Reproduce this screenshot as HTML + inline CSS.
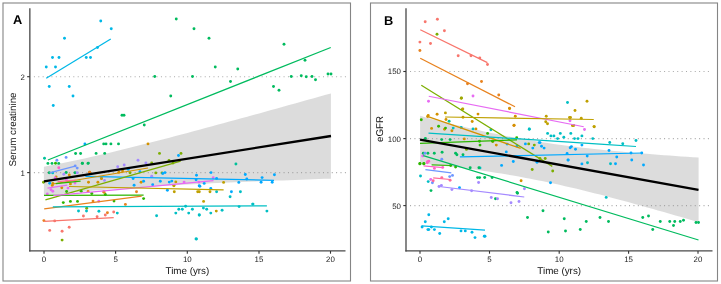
<!DOCTYPE html><html><head><meta charset="utf-8"><style>
html,body{margin:0;padding:0;background:#fff;}
svg{display:block;font-family:"Liberation Sans",sans-serif;will-change:transform;}text{text-rendering:geometricPrecision;}
</style></head><body>
<svg width="721" height="284" viewBox="0 0 721 284">
<rect x="0" y="0" width="721" height="284" fill="#fff"/>
<rect x="3" y="3" width="347.5" height="278" fill="none" stroke="#858585" stroke-width="1.1"/>
<line x1="33.9" y1="172.6" x2="346" y2="172.6" stroke="#a8a8a8" stroke-width="1.1" stroke-dasharray="1 3.38"/>
<line x1="33.9" y1="76.7" x2="346" y2="76.7" stroke="#a8a8a8" stroke-width="1.1" stroke-dasharray="1 3.38"/>
<polygon points="43.90,166.67 49.88,165.56 55.86,164.42 61.84,163.24 67.82,162.03 73.80,160.78 79.78,159.50 85.75,158.19 91.73,156.85 97.71,155.48 103.69,154.09 109.67,152.68 115.65,151.25 121.63,149.80 127.61,148.33 133.59,146.84 139.57,145.34 145.55,143.82 151.53,142.30 157.50,140.76 163.48,139.21 169.46,137.64 175.44,136.07 181.42,134.49 187.40,132.91 193.38,131.31 199.36,129.71 205.34,128.10 211.32,126.49 217.30,124.87 223.28,123.24 229.25,121.61 235.23,119.98 241.21,118.34 247.19,116.70 253.17,115.05 259.15,113.40 265.13,111.75 271.11,110.09 277.09,108.43 283.07,106.77 289.05,105.11 295.02,103.44 301.00,101.77 306.98,100.10 312.96,98.43 318.94,96.75 324.92,95.07 330.90,93.39 330.90,178.63 324.92,178.84 318.94,179.06 312.96,179.27 306.98,179.49 301.00,179.71 295.02,179.94 289.05,180.16 283.07,180.39 277.09,180.62 271.11,180.85 265.13,181.09 259.15,181.33 253.17,181.57 247.19,181.81 241.21,182.06 235.23,182.32 229.25,182.57 223.28,182.83 217.30,183.10 211.32,183.37 205.34,183.65 199.36,183.93 193.38,184.22 187.40,184.52 181.42,184.83 175.44,185.14 169.46,185.46 163.48,185.79 157.50,186.13 151.53,186.48 145.55,186.85 139.57,187.22 133.59,187.61 127.61,188.02 121.63,188.44 115.65,188.88 109.67,189.34 103.69,189.82 97.71,190.32 91.73,190.85 85.75,191.40 79.78,191.98 73.80,192.60 67.82,193.24 61.84,193.91 55.86,194.63 49.88,195.38 43.90,196.16" fill="#999999" fill-opacity="0.345"/>
<circle cx="100.75" cy="21" r="1.45" fill="#00B8E7"/>
<circle cx="111.25" cy="28.75" r="1.45" fill="#00B8E7"/>
<circle cx="64.5" cy="38.25" r="1.45" fill="#00B8E7"/>
<circle cx="52.5" cy="57.5" r="1.45" fill="#00B8E7"/>
<circle cx="59" cy="57.5" r="1.45" fill="#00B8E7"/>
<circle cx="86.25" cy="57.5" r="1.45" fill="#00B8E7"/>
<circle cx="90.5" cy="57.5" r="1.45" fill="#00B8E7"/>
<circle cx="97.5" cy="47.5" r="1.45" fill="#00B8E7"/>
<circle cx="46.25" cy="67" r="1.45" fill="#00B8E7"/>
<circle cx="55.5" cy="67" r="1.45" fill="#00B8E7"/>
<circle cx="49.25" cy="86.5" r="1.45" fill="#00B8E7"/>
<circle cx="69.25" cy="86.5" r="1.45" fill="#00B8E7"/>
<circle cx="73" cy="96" r="1.45" fill="#00B8E7"/>
<circle cx="53.25" cy="105.5" r="1.45" fill="#00B8E7"/>
<circle cx="176.25" cy="19" r="1.45" fill="#00BB5E"/>
<circle cx="194" cy="28.75" r="1.45" fill="#00BB5E"/>
<circle cx="209" cy="38.25" r="1.45" fill="#00BB5E"/>
<circle cx="215.25" cy="67" r="1.45" fill="#00BB5E"/>
<circle cx="284" cy="44.25" r="1.45" fill="#00BB5E"/>
<circle cx="305" cy="60.25" r="1.45" fill="#00BB5E"/>
<circle cx="237.75" cy="69" r="1.45" fill="#00BB5E"/>
<circle cx="122" cy="115.25" r="1.45" fill="#00BB5E"/>
<circle cx="124" cy="115.25" r="1.45" fill="#00BB5E"/>
<circle cx="144.25" cy="125" r="1.45" fill="#00BB5E"/>
<circle cx="154.75" cy="76.5" r="1.45" fill="#00BB5E"/>
<circle cx="192.5" cy="76.5" r="1.45" fill="#00BB5E"/>
<circle cx="230.5" cy="81.5" r="1.45" fill="#00BB5E"/>
<circle cx="170.75" cy="96" r="1.45" fill="#00BB5E"/>
<circle cx="273.5" cy="86.5" r="1.45" fill="#00BB5E"/>
<circle cx="279" cy="90.25" r="1.45" fill="#00BB5E"/>
<circle cx="291.25" cy="76.5" r="1.45" fill="#00BB5E"/>
<circle cx="301.25" cy="75.75" r="1.45" fill="#00BB5E"/>
<circle cx="306.25" cy="76.75" r="1.45" fill="#00BB5E"/>
<circle cx="312" cy="76.5" r="1.45" fill="#00BB5E"/>
<circle cx="315.5" cy="79.75" r="1.45" fill="#00BB5E"/>
<circle cx="328" cy="74" r="1.45" fill="#00BB5E"/>
<circle cx="331" cy="74" r="1.45" fill="#00BB5E"/>
<circle cx="47.9" cy="163.4" r="1.45" fill="#00BB5E"/>
<circle cx="52" cy="163.4" r="1.45" fill="#00BB5E"/>
<circle cx="58.7" cy="163.4" r="1.45" fill="#00BB5E"/>
<circle cx="75.6" cy="153.5" r="1.45" fill="#00BB5E"/>
<circle cx="80.6" cy="153.5" r="1.45" fill="#00BB5E"/>
<circle cx="82.4" cy="163.4" r="1.45" fill="#00BB5E"/>
<circle cx="88" cy="163.4" r="1.45" fill="#00BB5E"/>
<circle cx="103.7" cy="143.9" r="1.45" fill="#00BB5E"/>
<circle cx="106" cy="143.9" r="1.45" fill="#00BB5E"/>
<circle cx="110.9" cy="143.9" r="1.45" fill="#00BB5E"/>
<circle cx="118.5" cy="143.9" r="1.45" fill="#00BB5E"/>
<circle cx="96.1" cy="153.4" r="1.45" fill="#00BB5E"/>
<circle cx="104.7" cy="153.4" r="1.45" fill="#00BB5E"/>
<circle cx="49.3" cy="172.8" r="1.45" fill="#00BB5E"/>
<circle cx="66.2" cy="172.5" r="1.45" fill="#00BB5E"/>
<circle cx="75" cy="172.8" r="1.45" fill="#00BB5E"/>
<circle cx="88.3" cy="163.1" r="1.45" fill="#00BB5E"/>
<circle cx="82.3" cy="163.3" r="1.45" fill="#00BB5E"/>
<circle cx="44.5" cy="158.2" r="1.45" fill="#00C19A"/>
<circle cx="235.9" cy="164" r="1.45" fill="#00C19A"/>
<circle cx="56.9" cy="160.3" r="1.45" fill="#6E96FF"/>
<circle cx="66.1" cy="157.4" r="1.45" fill="#6E96FF"/>
<circle cx="75.2" cy="165.9" r="1.45" fill="#6E96FF"/>
<circle cx="77.2" cy="168.1" r="1.45" fill="#6E96FF"/>
<circle cx="58.8" cy="167.8" r="1.45" fill="#FF61C9"/>
<circle cx="63.8" cy="174.3" r="1.45" fill="#A58AFF"/>
<circle cx="77.2" cy="172.8" r="1.45" fill="#A58AFF"/>
<circle cx="138" cy="160.2" r="1.45" fill="#A58AFF"/>
<circle cx="124.2" cy="165" r="1.45" fill="#A58AFF"/>
<circle cx="117.7" cy="166.8" r="1.45" fill="#A58AFF"/>
<circle cx="104.5" cy="180.4" r="1.45" fill="#A58AFF"/>
<circle cx="145.9" cy="163" r="1.45" fill="#A58AFF"/>
<circle cx="151.7" cy="176.2" r="1.45" fill="#A58AFF"/>
<circle cx="148" cy="143.9" r="1.45" fill="#D39200"/>
<circle cx="69.3" cy="175" r="1.45" fill="#D39200"/>
<circle cx="56.1" cy="176.9" r="1.45" fill="#D39200"/>
<circle cx="89.6" cy="172.2" r="1.45" fill="#D39200"/>
<circle cx="118.9" cy="172.3" r="1.45" fill="#D39200"/>
<circle cx="122.6" cy="171.1" r="1.45" fill="#D39200"/>
<circle cx="101.4" cy="178.5" r="1.45" fill="#D39200"/>
<circle cx="88.5" cy="182.2" r="1.45" fill="#D39200"/>
<circle cx="97.9" cy="182.2" r="1.45" fill="#D39200"/>
<circle cx="141.1" cy="182.2" r="1.45" fill="#D39200"/>
<circle cx="52.8" cy="183.5" r="1.45" fill="#D39200"/>
<circle cx="52.3" cy="185.4" r="1.45" fill="#D39200"/>
<circle cx="70.4" cy="183.9" r="1.45" fill="#D39200"/>
<circle cx="61.8" cy="187.8" r="1.45" fill="#D39200"/>
<circle cx="101.5" cy="178.5" r="1.45" fill="#D39200"/>
<circle cx="174.3" cy="191.8" r="1.45" fill="#BFA000"/>
<circle cx="197.7" cy="191.8" r="1.45" fill="#BFA000"/>
<circle cx="199.3" cy="191.8" r="1.45" fill="#BFA000"/>
<circle cx="210" cy="191.8" r="1.45" fill="#BFA000"/>
<circle cx="173.9" cy="185.6" r="1.45" fill="#BFA000"/>
<circle cx="175.8" cy="181.9" r="1.45" fill="#BFA000"/>
<circle cx="173.9" cy="185.8" r="1.45" fill="#BFA000"/>
<circle cx="223.6" cy="182.4" r="1.45" fill="#BFA000"/>
<circle cx="203.6" cy="201.4" r="1.45" fill="#BFA000"/>
<circle cx="216.3" cy="211.1" r="1.45" fill="#BFA000"/>
<circle cx="159.5" cy="153.4" r="1.45" fill="#7CAE00"/>
<circle cx="181" cy="153.4" r="1.45" fill="#7CAE00"/>
<circle cx="151.7" cy="163" r="1.45" fill="#7CAE00"/>
<circle cx="130" cy="172.7" r="1.45" fill="#7CAE00"/>
<circle cx="155.8" cy="172.9" r="1.45" fill="#7CAE00"/>
<circle cx="162" cy="172.9" r="1.45" fill="#7CAE00"/>
<circle cx="173" cy="163" r="1.45" fill="#7CAE00"/>
<circle cx="43.5" cy="182.2" r="1.45" fill="#7CAE00"/>
<circle cx="86.7" cy="208.3" r="1.45" fill="#7CAE00"/>
<circle cx="62.1" cy="240.1" r="1.45" fill="#7CAE00"/>
<circle cx="169" cy="160.5" r="1.45" fill="#7CAE00"/>
<circle cx="84.9" cy="143.9" r="1.45" fill="#00A9FF"/>
<circle cx="178.5" cy="155.5" r="1.45" fill="#00A9FF"/>
<circle cx="49.7" cy="183.3" r="1.45" fill="#00A9FF"/>
<circle cx="128.2" cy="169.2" r="1.45" fill="#00A9FF"/>
<circle cx="139.9" cy="171.7" r="1.45" fill="#00A9FF"/>
<circle cx="133.1" cy="178.5" r="1.45" fill="#00A9FF"/>
<circle cx="134.1" cy="185.3" r="1.45" fill="#00A9FF"/>
<circle cx="143.6" cy="181.2" r="1.45" fill="#00A9FF"/>
<circle cx="162.8" cy="173.5" r="1.45" fill="#00A9FF"/>
<circle cx="165" cy="172.6" r="1.45" fill="#00A9FF"/>
<circle cx="196.5" cy="175.3" r="1.45" fill="#00A9FF"/>
<circle cx="160.3" cy="181.3" r="1.45" fill="#00A9FF"/>
<circle cx="152.7" cy="184.8" r="1.45" fill="#00A9FF"/>
<circle cx="169.3" cy="182.1" r="1.45" fill="#00A9FF"/>
<circle cx="171.8" cy="181.1" r="1.45" fill="#00A9FF"/>
<circle cx="196.1" cy="179.7" r="1.45" fill="#00A9FF"/>
<circle cx="199.2" cy="185.8" r="1.45" fill="#00A9FF"/>
<circle cx="211" cy="172.6" r="1.45" fill="#00A9FF"/>
<circle cx="216.6" cy="178.4" r="1.45" fill="#00A9FF"/>
<circle cx="245.3" cy="174.5" r="1.45" fill="#00A9FF"/>
<circle cx="246.8" cy="179" r="1.45" fill="#00A9FF"/>
<circle cx="238.8" cy="182.4" r="1.45" fill="#00A9FF"/>
<circle cx="204.2" cy="183.4" r="1.45" fill="#00A9FF"/>
<circle cx="199.9" cy="186.2" r="1.45" fill="#00A9FF"/>
<circle cx="210.8" cy="188.5" r="1.45" fill="#00A9FF"/>
<circle cx="262.1" cy="177.6" r="1.45" fill="#00A9FF"/>
<circle cx="274.4" cy="174.8" r="1.45" fill="#00A9FF"/>
<circle cx="261.1" cy="182.2" r="1.45" fill="#00A9FF"/>
<circle cx="272.2" cy="182.2" r="1.45" fill="#00A9FF"/>
<circle cx="167.4" cy="190.2" r="1.45" fill="#00A9FF"/>
<circle cx="231.4" cy="191.8" r="1.45" fill="#00A9FF"/>
<circle cx="55.2" cy="178" r="1.45" fill="#E76BF3"/>
<circle cx="66.4" cy="180" r="1.45" fill="#E76BF3"/>
<circle cx="75" cy="183.1" r="1.45" fill="#E76BF3"/>
<circle cx="68" cy="188.1" r="1.45" fill="#E76BF3"/>
<circle cx="51" cy="189.7" r="1.45" fill="#E76BF3"/>
<circle cx="52.8" cy="191.3" r="1.45" fill="#E76BF3"/>
<circle cx="47.3" cy="194" r="1.45" fill="#E76BF3"/>
<circle cx="98.8" cy="201.3" r="1.45" fill="#E76BF3"/>
<circle cx="184.1" cy="182.1" r="1.45" fill="#E76BF3"/>
<circle cx="198.9" cy="182.1" r="1.45" fill="#E76BF3"/>
<circle cx="213.2" cy="177.8" r="1.45" fill="#E76BF3"/>
<circle cx="63.3" cy="202.6" r="1.45" fill="#2DB600"/>
<circle cx="70.4" cy="201.4" r="1.45" fill="#2DB600"/>
<circle cx="77.5" cy="201.4" r="1.45" fill="#2DB600"/>
<circle cx="91.8" cy="193.5" r="1.45" fill="#2DB600"/>
<circle cx="105.3" cy="194.5" r="1.45" fill="#2DB600"/>
<circle cx="143.6" cy="198.6" r="1.45" fill="#2DB600"/>
<circle cx="114" cy="201.1" r="1.45" fill="#2DB600"/>
<circle cx="66.6" cy="191.5" r="1.45" fill="#2DB600"/>
<circle cx="81.2" cy="191.3" r="1.45" fill="#2DB600"/>
<circle cx="55.5" cy="163.3" r="1.45" fill="#2DB600"/>
<circle cx="43.9" cy="220.6" r="1.45" fill="#E8821E"/>
<circle cx="93" cy="201.1" r="1.45" fill="#E8821E"/>
<circle cx="125.4" cy="204.4" r="1.45" fill="#E8821E"/>
<circle cx="136.5" cy="191.8" r="1.45" fill="#E8821E"/>
<circle cx="103.7" cy="191.8" r="1.45" fill="#E8821E"/>
<circle cx="107.4" cy="212.8" r="1.45" fill="#E8821E"/>
<circle cx="88.1" cy="191.4" r="1.45" fill="#E8821E"/>
<circle cx="104.1" cy="192.3" r="1.45" fill="#E8821E"/>
<circle cx="89.7" cy="172.3" r="1.45" fill="#E8821E"/>
<circle cx="78.5" cy="211" r="1.45" fill="#00BFC4"/>
<circle cx="86.5" cy="211" r="1.45" fill="#00BFC4"/>
<circle cx="98.9" cy="211.2" r="1.45" fill="#00BFC4"/>
<circle cx="117.3" cy="213.1" r="1.45" fill="#00BFC4"/>
<circle cx="185.6" cy="206.2" r="1.45" fill="#00BFC4"/>
<circle cx="178.8" cy="209.3" r="1.45" fill="#00BFC4"/>
<circle cx="182.3" cy="209.3" r="1.45" fill="#00BFC4"/>
<circle cx="192.4" cy="209.3" r="1.45" fill="#00BFC4"/>
<circle cx="175.8" cy="213.1" r="1.45" fill="#00BFC4"/>
<circle cx="188.7" cy="213.1" r="1.45" fill="#00BFC4"/>
<circle cx="199.2" cy="215" r="1.45" fill="#00BFC4"/>
<circle cx="156.6" cy="215.8" r="1.45" fill="#00BFC4"/>
<circle cx="196.4" cy="239" r="1.45" fill="#00BFC4"/>
<circle cx="216.6" cy="191.8" r="1.45" fill="#00BFC4"/>
<circle cx="240.4" cy="191.8" r="1.45" fill="#00BFC4"/>
<circle cx="230.1" cy="196.7" r="1.45" fill="#00BFC4"/>
<circle cx="203.4" cy="208.1" r="1.45" fill="#00BFC4"/>
<circle cx="206.7" cy="209.3" r="1.45" fill="#00BFC4"/>
<circle cx="210.8" cy="213.1" r="1.45" fill="#00BFC4"/>
<circle cx="222.1" cy="210.3" r="1.45" fill="#00BFC4"/>
<circle cx="199.3" cy="215" r="1.45" fill="#00BFC4"/>
<circle cx="239.1" cy="206.6" r="1.45" fill="#00BFC4"/>
<circle cx="253" cy="204.1" r="1.45" fill="#00BFC4"/>
<circle cx="252.7" cy="204.1" r="1.45" fill="#00BFC4"/>
<circle cx="266.9" cy="211.1" r="1.45" fill="#00BFC4"/>
<circle cx="196" cy="238.9" r="1.45" fill="#00BFC4"/>
<circle cx="52.7" cy="172.9" r="1.45" fill="#00BFC4"/>
<circle cx="83.4" cy="216" r="1.45" fill="#F8766D"/>
<circle cx="54.7" cy="220.9" r="1.45" fill="#F8766D"/>
<circle cx="69.2" cy="227.3" r="1.45" fill="#F8766D"/>
<circle cx="49.7" cy="230.4" r="1.45" fill="#F8766D"/>
<circle cx="62.1" cy="231.2" r="1.45" fill="#F8766D"/>
<circle cx="97.1" cy="216.8" r="1.45" fill="#F8766D"/>
<circle cx="105.3" cy="215" r="1.45" fill="#F8766D"/>
<circle cx="113.7" cy="212" r="1.45" fill="#F8766D"/>
<polyline points="46.25,78.25 110.75,39.00" fill="none" stroke="#00B8E7" stroke-width="1.25" stroke-linecap="butt"/>
<polyline points="47.90,160.00 330.75,47.50" fill="none" stroke="#00BB5E" stroke-width="1.25" stroke-linecap="butt"/>
<polyline points="49.50,172.80 75.20,166.10" fill="none" stroke="#6E96FF" stroke-width="1.25" stroke-linecap="butt"/>
<polyline points="85.40,176.30 274.00,180.30" fill="none" stroke="#00A9FF" stroke-width="1.25" stroke-linecap="butt"/>
<polyline points="53.00,184.00 148.00,168.00" fill="none" stroke="#D39200" stroke-width="1.25" stroke-linecap="butt"/>
<polyline points="45.40,199.90 180.70,161.20" fill="none" stroke="#7CAE00" stroke-width="1.25" stroke-linecap="butt"/>
<polyline points="57.60,181.70 76.00,180.20" fill="none" stroke="#FF6A98" stroke-width="1.25" stroke-linecap="butt"/>
<polyline points="55.90,183.70 80.60,181.10" fill="none" stroke="#2DB600" stroke-width="1.25" stroke-linecap="butt"/>
<polyline points="47.50,188.10 67.30,185.10" fill="none" stroke="#E76BF3" stroke-width="1.25" stroke-linecap="butt"/>
<polyline points="44.00,195.30 143.60,195.20" fill="none" stroke="#2DB600" stroke-width="1.25" stroke-linecap="butt"/>
<polyline points="53.40,195.60 213.50,180.60" fill="none" stroke="#E76BF3" stroke-width="1.25" stroke-linecap="butt"/>
<polyline points="69.00,186.50 223.60,189.90" fill="none" stroke="#BFA000" stroke-width="1.25" stroke-linecap="butt"/>
<polyline points="44.20,208.90 141.70,196.20" fill="none" stroke="#E8821E" stroke-width="1.25" stroke-linecap="butt"/>
<polyline points="52.80,206.80 266.90,205.85" fill="none" stroke="#00BFC4" stroke-width="1.25" stroke-linecap="butt"/>
<polyline points="44.20,221.30 113.70,217.70" fill="none" stroke="#F8766D" stroke-width="1.25" stroke-linecap="butt"/>
<polyline points="44.00,181.40 331.00,136.00" fill="none" stroke="#000" stroke-width="2.35"/>
<line x1="29.85" y1="8.2" x2="29.85" y2="251.5" stroke="#484848" stroke-width="1.3"/>
<line x1="29.200000000000003" y1="250.9" x2="345.5" y2="250.9" stroke="#484848" stroke-width="1.3"/>
<line x1="44" y1="251" x2="44" y2="253.7" stroke="#333" stroke-width="1.1"/>
<text x="44" y="262.3" font-size="7.9" fill="#222" text-anchor="middle">0</text>
<line x1="115.6" y1="251" x2="115.6" y2="253.7" stroke="#333" stroke-width="1.1"/>
<text x="115.6" y="262.3" font-size="7.9" fill="#222" text-anchor="middle">5</text>
<line x1="187.3" y1="251" x2="187.3" y2="253.7" stroke="#333" stroke-width="1.1"/>
<text x="187.3" y="262.3" font-size="7.9" fill="#222" text-anchor="middle">10</text>
<line x1="259" y1="251" x2="259" y2="253.7" stroke="#333" stroke-width="1.1"/>
<text x="259" y="262.3" font-size="7.9" fill="#222" text-anchor="middle">15</text>
<line x1="330.5" y1="251" x2="330.5" y2="253.7" stroke="#333" stroke-width="1.1"/>
<text x="330.5" y="262.3" font-size="7.9" fill="#222" text-anchor="middle">20</text>
<line x1="27.150000000000002" y1="172.6" x2="29.85" y2="172.6" stroke="#333" stroke-width="1.1"/>
<text x="24.85" y="175.5" font-size="7.9" fill="#222" text-anchor="end">1</text>
<line x1="27.150000000000002" y1="76.7" x2="29.85" y2="76.7" stroke="#333" stroke-width="1.1"/>
<text x="24.85" y="79.60000000000001" font-size="7.9" fill="#222" text-anchor="end">2</text>
<text x="187.4" y="273.8" font-size="9.8" fill="#111" text-anchor="middle">Time (yrs)</text>
<text transform="translate(15.6,129.5) rotate(-90)" font-size="9.8" fill="#111" text-anchor="middle">Serum creatinine</text>
<text x="12.9" y="24.4" font-size="12.8" font-weight="bold" fill="#000">A</text>
<rect x="370.5" y="3" width="347.0" height="278" fill="none" stroke="#858585" stroke-width="1.1"/>
<line x1="410.05" y1="71.5" x2="709.5" y2="71.5" stroke="#a8a8a8" stroke-width="1.1" stroke-dasharray="1 3.38"/>
<line x1="410.05" y1="138.6" x2="709.5" y2="138.6" stroke="#a8a8a8" stroke-width="1.1" stroke-dasharray="1 3.38"/>
<line x1="410.05" y1="205.6" x2="709.5" y2="205.6" stroke="#a8a8a8" stroke-width="1.1" stroke-dasharray="1 3.38"/>
<polygon points="420.10,115.85 425.90,117.38 431.70,118.90 437.51,120.39 443.31,121.86 449.11,123.31 454.91,124.73 460.71,126.12 466.52,127.48 472.32,128.82 478.12,130.12 483.92,131.39 489.73,132.63 495.53,133.83 501.33,135.00 507.13,136.14 512.93,137.23 518.74,138.29 524.54,139.32 530.34,140.31 536.14,141.26 541.94,142.17 547.75,143.05 553.55,143.90 559.35,144.72 565.15,145.50 570.95,146.25 576.76,146.97 582.56,147.67 588.36,148.34 594.16,148.98 599.96,149.60 605.77,150.19 611.57,150.77 617.37,151.32 623.17,151.86 628.98,152.38 634.78,152.88 640.58,153.37 646.38,153.84 652.18,154.30 657.99,154.75 663.79,155.18 669.59,155.60 675.39,156.02 681.19,156.42 687.00,156.81 692.80,157.20 698.60,157.58 698.60,222.25 692.80,220.54 687.00,218.83 681.19,217.12 675.39,215.43 669.59,213.75 663.79,212.08 657.99,210.41 652.18,208.76 646.38,207.13 640.58,205.50 634.78,203.90 628.98,202.30 623.17,200.73 617.37,199.17 611.57,197.63 605.77,196.11 599.96,194.61 594.16,193.13 588.36,191.68 582.56,190.25 576.76,188.85 570.95,187.47 565.15,186.13 559.35,184.82 553.55,183.54 547.75,182.29 541.94,181.07 536.14,179.89 530.34,178.75 524.54,177.64 518.74,176.57 512.93,175.53 507.13,174.53 501.33,173.57 495.53,172.65 489.73,171.75 483.92,170.90 478.12,170.07 472.32,169.28 466.52,168.52 460.71,167.79 454.91,167.09 449.11,166.41 443.31,165.76 437.51,165.13 431.70,164.53 425.90,163.95 420.10,163.39" fill="#999999" fill-opacity="0.345"/>
<circle cx="425.2" cy="21.8" r="1.45" fill="#F8766D"/>
<circle cx="437.4" cy="19.2" r="1.45" fill="#F8766D"/>
<circle cx="444.4" cy="30.8" r="1.45" fill="#F8766D"/>
<circle cx="419.9" cy="42.1" r="1.45" fill="#F8766D"/>
<circle cx="430.5" cy="43.5" r="1.45" fill="#F8766D"/>
<circle cx="458.2" cy="55.8" r="1.45" fill="#F8766D"/>
<circle cx="471" cy="55.8" r="1.45" fill="#F8766D"/>
<circle cx="479.8" cy="57.9" r="1.45" fill="#F8766D"/>
<circle cx="487.5" cy="64.5" r="1.45" fill="#F8766D"/>
<circle cx="437" cy="34.3" r="1.45" fill="#7CAE00"/>
<circle cx="461.4" cy="98" r="1.45" fill="#7CAE00"/>
<circle cx="528.7" cy="143.9" r="1.45" fill="#7CAE00"/>
<circle cx="534.3" cy="145.1" r="1.45" fill="#7CAE00"/>
<circle cx="532.2" cy="169.5" r="1.45" fill="#7CAE00"/>
<circle cx="552.7" cy="171" r="1.45" fill="#7CAE00"/>
<circle cx="540" cy="158.5" r="1.45" fill="#7CAE00"/>
<circle cx="545.2" cy="158.5" r="1.45" fill="#7CAE00"/>
<circle cx="466.4" cy="149.4" r="1.45" fill="#7CAE00"/>
<circle cx="419.9" cy="50.5" r="1.45" fill="#E8821E"/>
<circle cx="467.5" cy="83.75" r="1.45" fill="#E8821E"/>
<circle cx="481.5" cy="81.5" r="1.45" fill="#E8821E"/>
<circle cx="498.75" cy="95" r="1.45" fill="#E8821E"/>
<circle cx="509.5" cy="108.25" r="1.45" fill="#E8821E"/>
<circle cx="513.9" cy="125.6" r="1.45" fill="#E8821E"/>
<circle cx="428.5" cy="101.2" r="1.45" fill="#E76BF3"/>
<circle cx="473" cy="96" r="1.45" fill="#E76BF3"/>
<circle cx="570" cy="120.75" r="1.45" fill="#E76BF3"/>
<circle cx="584.5" cy="129.5" r="1.45" fill="#E76BF3"/>
<circle cx="422.7" cy="155.9" r="1.45" fill="#E76BF3"/>
<circle cx="430.7" cy="179.5" r="1.45" fill="#E76BF3"/>
<circle cx="461.25" cy="98.25" r="1.45" fill="#A3A500"/>
<circle cx="462.5" cy="109.25" r="1.45" fill="#A3A500"/>
<circle cx="462.8" cy="109" r="1.45" fill="#BFA000"/>
<circle cx="445.4" cy="112.9" r="1.45" fill="#BFA000"/>
<circle cx="463" cy="117.3" r="1.45" fill="#BFA000"/>
<circle cx="546.25" cy="116.25" r="1.45" fill="#BFA000"/>
<circle cx="545.75" cy="121.75" r="1.45" fill="#BFA000"/>
<circle cx="547.5" cy="123.75" r="1.45" fill="#BFA000"/>
<circle cx="569.5" cy="117.5" r="1.45" fill="#BFA000"/>
<circle cx="570.5" cy="117.5" r="1.45" fill="#BFA000"/>
<circle cx="575" cy="110.5" r="1.45" fill="#BFA000"/>
<circle cx="587" cy="101.25" r="1.45" fill="#BFA000"/>
<circle cx="581.25" cy="118.25" r="1.45" fill="#BFA000"/>
<circle cx="572.5" cy="125.5" r="1.45" fill="#BFA000"/>
<circle cx="573.75" cy="125.5" r="1.45" fill="#BFA000"/>
<circle cx="594.25" cy="126.75" r="1.45" fill="#BFA000"/>
<circle cx="594" cy="126.6" r="1.45" fill="#BFA000"/>
<circle cx="572.7" cy="125.6" r="1.45" fill="#BFA000"/>
<circle cx="437.1" cy="114.2" r="1.45" fill="#D39200"/>
<circle cx="428.2" cy="115.4" r="1.45" fill="#D39200"/>
<circle cx="427.6" cy="116.6" r="1.45" fill="#D39200"/>
<circle cx="446" cy="119.5" r="1.45" fill="#D39200"/>
<circle cx="431.6" cy="128.4" r="1.45" fill="#D39200"/>
<circle cx="444.5" cy="129.2" r="1.45" fill="#D39200"/>
<circle cx="451.9" cy="130.8" r="1.45" fill="#D39200"/>
<circle cx="464.3" cy="138.9" r="1.45" fill="#D39200"/>
<circle cx="478" cy="114.1" r="1.45" fill="#D39200"/>
<circle cx="515.3" cy="116.3" r="1.45" fill="#D39200"/>
<circle cx="472.2" cy="121.5" r="1.45" fill="#D39200"/>
<circle cx="514.1" cy="125.2" r="1.45" fill="#D39200"/>
<circle cx="475.9" cy="128.9" r="1.45" fill="#D39200"/>
<circle cx="492.9" cy="141.6" r="1.45" fill="#D39200"/>
<circle cx="496.3" cy="145.1" r="1.45" fill="#D39200"/>
<circle cx="509.6" cy="108.6" r="1.45" fill="#D39200"/>
<circle cx="521.1" cy="180.8" r="1.45" fill="#D39200"/>
<circle cx="421.3" cy="119.7" r="1.45" fill="#2DB600"/>
<circle cx="438.6" cy="126.3" r="1.45" fill="#2DB600"/>
<circle cx="445.5" cy="128.1" r="1.45" fill="#2DB600"/>
<circle cx="487.6" cy="133.4" r="1.45" fill="#2DB600"/>
<circle cx="516.7" cy="137.7" r="1.45" fill="#2DB600"/>
<circle cx="480" cy="145.1" r="1.45" fill="#2DB600"/>
<circle cx="419.9" cy="163.5" r="1.45" fill="#2DB600"/>
<circle cx="423.8" cy="163.5" r="1.45" fill="#2DB600"/>
<circle cx="419.9" cy="163.9" r="1.45" fill="#2DB600"/>
<circle cx="423.9" cy="163.9" r="1.45" fill="#2DB600"/>
<circle cx="450.7" cy="165.5" r="1.45" fill="#2DB600"/>
<circle cx="455.6" cy="167" r="1.45" fill="#2DB600"/>
<circle cx="479.5" cy="141.3" r="1.45" fill="#2DB600"/>
<circle cx="492.5" cy="141.3" r="1.45" fill="#2DB600"/>
<circle cx="449.1" cy="121.2" r="1.45" fill="#00C19A"/>
<circle cx="453.2" cy="128.1" r="1.45" fill="#00BFC4"/>
<circle cx="461.2" cy="127.4" r="1.45" fill="#00BFC4"/>
<circle cx="473" cy="128.9" r="1.45" fill="#00BFC4"/>
<circle cx="490.9" cy="129.7" r="1.45" fill="#00BFC4"/>
<circle cx="529.3" cy="129.3" r="1.45" fill="#00BFC4"/>
<circle cx="567.5" cy="102.5" r="1.45" fill="#00BFC4"/>
<circle cx="529.25" cy="129" r="1.45" fill="#00BFC4"/>
<circle cx="547.6" cy="133.4" r="1.45" fill="#00BFC4"/>
<circle cx="550.9" cy="135.9" r="1.45" fill="#00BFC4"/>
<circle cx="553.9" cy="135.9" r="1.45" fill="#00BFC4"/>
<circle cx="557.6" cy="138.6" r="1.45" fill="#00BFC4"/>
<circle cx="560.3" cy="133.4" r="1.45" fill="#00BFC4"/>
<circle cx="563.8" cy="137.3" r="1.45" fill="#00BFC4"/>
<circle cx="570.8" cy="133.4" r="1.45" fill="#00BFC4"/>
<circle cx="574.5" cy="138.6" r="1.45" fill="#00BFC4"/>
<circle cx="578" cy="138.6" r="1.45" fill="#00BFC4"/>
<circle cx="581.9" cy="135.9" r="1.45" fill="#00BFC4"/>
<circle cx="592.8" cy="138.6" r="1.45" fill="#00BFC4"/>
<circle cx="609.75" cy="142.5" r="1.45" fill="#00BFC4"/>
<circle cx="622.75" cy="143.75" r="1.45" fill="#00BFC4"/>
<circle cx="636" cy="140.5" r="1.45" fill="#00BFC4"/>
<circle cx="610.5" cy="163.75" r="1.45" fill="#00BFC4"/>
<circle cx="587.5" cy="162.7" r="1.45" fill="#00BFC4"/>
<circle cx="606.2" cy="197.4" r="1.45" fill="#00BFC4"/>
<circle cx="480" cy="167.9" r="1.45" fill="#00BFC4"/>
<circle cx="420.5" cy="176" r="1.45" fill="#00BFC4"/>
<circle cx="428.2" cy="181.6" r="1.45" fill="#00BFC4"/>
<circle cx="425.4" cy="138.4" r="1.45" fill="#00BB5E"/>
<circle cx="441.7" cy="139.6" r="1.45" fill="#00BB5E"/>
<circle cx="450.1" cy="139.6" r="1.45" fill="#00BB5E"/>
<circle cx="423.3" cy="153.2" r="1.45" fill="#00BB5E"/>
<circle cx="427.9" cy="153.2" r="1.45" fill="#00BB5E"/>
<circle cx="434.3" cy="153.2" r="1.45" fill="#00BB5E"/>
<circle cx="442.1" cy="152.2" r="1.45" fill="#00BB5E"/>
<circle cx="455.6" cy="153.2" r="1.45" fill="#00BB5E"/>
<circle cx="456.9" cy="154.7" r="1.45" fill="#00BB5E"/>
<circle cx="463" cy="154.7" r="1.45" fill="#00BB5E"/>
<circle cx="470.2" cy="167.7" r="1.45" fill="#00BB5E"/>
<circle cx="478.9" cy="167.7" r="1.45" fill="#00BB5E"/>
<circle cx="477.5" cy="177.6" r="1.45" fill="#00BB5E"/>
<circle cx="479.6" cy="177.6" r="1.45" fill="#00BB5E"/>
<circle cx="484.7" cy="177.5" r="1.45" fill="#00BB5E"/>
<circle cx="492.1" cy="177.5" r="1.45" fill="#00BB5E"/>
<circle cx="517" cy="192.5" r="1.45" fill="#00BB5E"/>
<circle cx="431" cy="190.6" r="1.45" fill="#00BB5E"/>
<circle cx="495.5" cy="198.75" r="1.45" fill="#00BB5E"/>
<circle cx="517.5" cy="193.25" r="1.45" fill="#00BB5E"/>
<circle cx="527.5" cy="217.5" r="1.45" fill="#00BB5E"/>
<circle cx="543" cy="210.75" r="1.45" fill="#00BB5E"/>
<circle cx="548.25" cy="232" r="1.45" fill="#00BB5E"/>
<circle cx="564.25" cy="218.75" r="1.45" fill="#00BB5E"/>
<circle cx="565.5" cy="231" r="1.45" fill="#00BB5E"/>
<circle cx="580.25" cy="229.5" r="1.45" fill="#00BB5E"/>
<circle cx="586.25" cy="221.5" r="1.45" fill="#00BB5E"/>
<circle cx="600" cy="217.5" r="1.45" fill="#00BB5E"/>
<circle cx="608.5" cy="221.5" r="1.45" fill="#00BB5E"/>
<circle cx="642.75" cy="217.5" r="1.45" fill="#00BB5E"/>
<circle cx="648.5" cy="216" r="1.45" fill="#00BB5E"/>
<circle cx="652.75" cy="229.5" r="1.45" fill="#00BB5E"/>
<circle cx="660.25" cy="221.5" r="1.45" fill="#00BB5E"/>
<circle cx="669.75" cy="221.5" r="1.45" fill="#00BB5E"/>
<circle cx="674.75" cy="221.5" r="1.45" fill="#00BB5E"/>
<circle cx="673.5" cy="225.5" r="1.45" fill="#00BB5E"/>
<circle cx="680.25" cy="221.5" r="1.45" fill="#00BB5E"/>
<circle cx="683.5" cy="220.25" r="1.45" fill="#00BB5E"/>
<circle cx="696" cy="222.5" r="1.45" fill="#00BB5E"/>
<circle cx="698.5" cy="222.5" r="1.45" fill="#00BB5E"/>
<circle cx="425" cy="153.2" r="1.45" fill="#6E96FF"/>
<circle cx="441.8" cy="159.2" r="1.45" fill="#6E96FF"/>
<circle cx="452.5" cy="175.4" r="1.45" fill="#6E96FF"/>
<circle cx="449.7" cy="176.6" r="1.45" fill="#6E96FF"/>
<circle cx="432.4" cy="182.8" r="1.45" fill="#6E96FF"/>
<circle cx="507.1" cy="144.1" r="1.45" fill="#00A9FF"/>
<circle cx="517" cy="146" r="1.45" fill="#00A9FF"/>
<circle cx="525.4" cy="143.9" r="1.45" fill="#00A9FF"/>
<circle cx="532.8" cy="148.1" r="1.45" fill="#00A9FF"/>
<circle cx="539.2" cy="142.6" r="1.45" fill="#00A9FF"/>
<circle cx="506.3" cy="151.9" r="1.45" fill="#00A9FF"/>
<circle cx="501.6" cy="165.4" r="1.45" fill="#00A9FF"/>
<circle cx="513.3" cy="161.5" r="1.45" fill="#00A9FF"/>
<circle cx="537" cy="162.3" r="1.45" fill="#00A9FF"/>
<circle cx="540" cy="142.6" r="1.45" fill="#00A9FF"/>
<circle cx="541.5" cy="146.2" r="1.45" fill="#00A9FF"/>
<circle cx="544.1" cy="148.1" r="1.45" fill="#00A9FF"/>
<circle cx="570.2" cy="147.8" r="1.45" fill="#00A9FF"/>
<circle cx="571.4" cy="146.6" r="1.45" fill="#00A9FF"/>
<circle cx="575.5" cy="149.3" r="1.45" fill="#00A9FF"/>
<circle cx="581.9" cy="145.1" r="1.45" fill="#00A9FF"/>
<circle cx="567.1" cy="153.4" r="1.45" fill="#00A9FF"/>
<circle cx="587.2" cy="156.1" r="1.45" fill="#00A9FF"/>
<circle cx="568.1" cy="160" r="1.45" fill="#00A9FF"/>
<circle cx="568.1" cy="160.1" r="1.45" fill="#00A9FF"/>
<circle cx="581.9" cy="163.9" r="1.45" fill="#00A9FF"/>
<circle cx="550.5" cy="182.7" r="1.45" fill="#00A9FF"/>
<circle cx="609" cy="150.5" r="1.45" fill="#00A9FF"/>
<circle cx="616.75" cy="157" r="1.45" fill="#00A9FF"/>
<circle cx="631" cy="153" r="1.45" fill="#00A9FF"/>
<circle cx="631.75" cy="160" r="1.45" fill="#00A9FF"/>
<circle cx="641.75" cy="153" r="1.45" fill="#00A9FF"/>
<circle cx="643.5" cy="165" r="1.45" fill="#00A9FF"/>
<circle cx="615.5" cy="163.75" r="1.45" fill="#00A9FF"/>
<circle cx="459.5" cy="187.8" r="1.45" fill="#00A9FF"/>
<circle cx="427.3" cy="162.7" r="1.45" fill="#FF61C9"/>
<circle cx="428.7" cy="161.2" r="1.45" fill="#FF61C9"/>
<circle cx="427.6" cy="161.6" r="1.45" fill="#FF61C9"/>
<circle cx="434.4" cy="168.4" r="1.45" fill="#FF61C9"/>
<circle cx="442.7" cy="167.4" r="1.45" fill="#FF61C9"/>
<circle cx="441.8" cy="177.6" r="1.45" fill="#FF6A98"/>
<circle cx="450.1" cy="180.3" r="1.45" fill="#FF6A98"/>
<circle cx="433.2" cy="180.7" r="1.45" fill="#FF6A98"/>
<circle cx="441.4" cy="185.5" r="1.45" fill="#A58AFF"/>
<circle cx="451.9" cy="189.6" r="1.45" fill="#A58AFF"/>
<circle cx="478.6" cy="182.5" r="1.45" fill="#A58AFF"/>
<circle cx="471.6" cy="190.7" r="1.45" fill="#A58AFF"/>
<circle cx="439" cy="186.5" r="1.45" fill="#A58AFF"/>
<circle cx="524.4" cy="188.8" r="1.45" fill="#A58AFF"/>
<circle cx="491.25" cy="197.5" r="1.45" fill="#A58AFF"/>
<circle cx="497.5" cy="198.75" r="1.45" fill="#A58AFF"/>
<circle cx="511" cy="202.75" r="1.45" fill="#A58AFF"/>
<circle cx="519" cy="201.5" r="1.45" fill="#A58AFF"/>
<circle cx="422.1" cy="227" r="1.45" fill="#00B8E7"/>
<circle cx="425.3" cy="221.7" r="1.45" fill="#00B8E7"/>
<circle cx="428.8" cy="214.7" r="1.45" fill="#00B8E7"/>
<circle cx="427.9" cy="229.6" r="1.45" fill="#00B8E7"/>
<circle cx="428.8" cy="229.6" r="1.45" fill="#00B8E7"/>
<circle cx="431.4" cy="227" r="1.45" fill="#00B8E7"/>
<circle cx="434.4" cy="229.6" r="1.45" fill="#00B8E7"/>
<circle cx="439.7" cy="233.5" r="1.45" fill="#00B8E7"/>
<circle cx="444.3" cy="221.7" r="1.45" fill="#00B8E7"/>
<circle cx="448.2" cy="218.7" r="1.45" fill="#00B8E7"/>
<circle cx="461" cy="230.9" r="1.45" fill="#00B8E7"/>
<circle cx="465.3" cy="230.9" r="1.45" fill="#00B8E7"/>
<circle cx="472" cy="232.3" r="1.45" fill="#00B8E7"/>
<circle cx="475" cy="237.6" r="1.45" fill="#00B8E7"/>
<circle cx="484.3" cy="236.2" r="1.45" fill="#00B8E7"/>
<circle cx="485" cy="236.25" r="1.45" fill="#00B8E7"/>
<polyline points="420.30,29.70 487.40,62.60" fill="none" stroke="#F8766D" stroke-width="1.25" stroke-linecap="butt"/>
<polyline points="420.25,58.25 515.00,106.75" fill="none" stroke="#E8821E" stroke-width="1.25" stroke-linecap="butt"/>
<polyline points="421.30,85.30 552.30,166.40" fill="none" stroke="#7CAE00" stroke-width="1.25" stroke-linecap="butt"/>
<polyline points="428.75,96.25 583.75,126.75" fill="none" stroke="#E76BF3" stroke-width="1.25" stroke-linecap="butt"/>
<polyline points="445.10,117.00 593.75,119.50" fill="none" stroke="#BFA000" stroke-width="1.25" stroke-linecap="butt"/>
<polyline points="427.30,116.40 520.70,148.40" fill="none" stroke="#D39200" stroke-width="1.25" stroke-linecap="butt"/>
<polyline points="428.50,133.10 600.00,144.10 636.00,146.50" fill="none" stroke="#00BFC4" stroke-width="1.25" stroke-linecap="butt"/>
<polyline points="420.00,143.40 517.00,139.90" fill="none" stroke="#2DB600" stroke-width="1.25" stroke-linecap="butt"/>
<polyline points="423.30,155.60 698.50,240.00" fill="none" stroke="#00BB5E" stroke-width="1.25" stroke-linecap="butt"/>
<polyline points="459.90,156.90 642.25,153.00" fill="none" stroke="#00A9FF" stroke-width="1.25" stroke-linecap="butt"/>
<polyline points="431.60,164.90 450.70,165.50" fill="none" stroke="#2DB600" stroke-width="1.25" stroke-linecap="butt"/>
<polyline points="423.60,165.90 443.00,167.60" fill="none" stroke="#FF61C9" stroke-width="1.25" stroke-linecap="butt"/>
<polyline points="425.40,169.60 451.30,172.90" fill="none" stroke="#6E96FF" stroke-width="1.25" stroke-linecap="butt"/>
<polyline points="433.20,177.90 450.10,179.50" fill="none" stroke="#FF6A98" stroke-width="1.25" stroke-linecap="butt"/>
<polyline points="439.00,186.50 524.25,197.00" fill="none" stroke="#A58AFF" stroke-width="1.25" stroke-linecap="butt"/>
<polyline points="421.70,225.80 485.00,230.20" fill="none" stroke="#00B8E7" stroke-width="1.25" stroke-linecap="butt"/>
<polyline points="420.00,139.60 698.50,189.90" fill="none" stroke="#000" stroke-width="2.35"/>
<line x1="406" y1="8.2" x2="406" y2="251.5" stroke="#484848" stroke-width="1.3"/>
<line x1="405.35" y1="250.9" x2="712.5" y2="250.9" stroke="#484848" stroke-width="1.3"/>
<line x1="420" y1="251" x2="420" y2="253.7" stroke="#333" stroke-width="1.1"/>
<text x="420" y="262.3" font-size="7.9" fill="#222" text-anchor="middle">0</text>
<line x1="489.5" y1="251" x2="489.5" y2="253.7" stroke="#333" stroke-width="1.1"/>
<text x="489.5" y="262.3" font-size="7.9" fill="#222" text-anchor="middle">5</text>
<line x1="559.2" y1="251" x2="559.2" y2="253.7" stroke="#333" stroke-width="1.1"/>
<text x="559.2" y="262.3" font-size="7.9" fill="#222" text-anchor="middle">10</text>
<line x1="628.6" y1="251" x2="628.6" y2="253.7" stroke="#333" stroke-width="1.1"/>
<text x="628.6" y="262.3" font-size="7.9" fill="#222" text-anchor="middle">15</text>
<line x1="698" y1="251" x2="698" y2="253.7" stroke="#333" stroke-width="1.1"/>
<text x="698" y="262.3" font-size="7.9" fill="#222" text-anchor="middle">20</text>
<line x1="403.3" y1="71.5" x2="406" y2="71.5" stroke="#333" stroke-width="1.1"/>
<text x="401" y="74.4" font-size="7.9" fill="#222" text-anchor="end">150</text>
<line x1="403.3" y1="138.6" x2="406" y2="138.6" stroke="#333" stroke-width="1.1"/>
<text x="401" y="141.5" font-size="7.9" fill="#222" text-anchor="end">100</text>
<line x1="403.3" y1="205.6" x2="406" y2="205.6" stroke="#333" stroke-width="1.1"/>
<text x="401" y="208.5" font-size="7.9" fill="#222" text-anchor="end">50</text>
<text x="559.2" y="273.8" font-size="9.8" fill="#111" text-anchor="middle">Time (yrs)</text>
<text transform="translate(383,129) rotate(-90)" font-size="9.8" fill="#111" text-anchor="middle">eGFR</text>
<text x="384.0" y="25.1" font-size="12.8" font-weight="bold" fill="#000">B</text>
</svg></body></html>
